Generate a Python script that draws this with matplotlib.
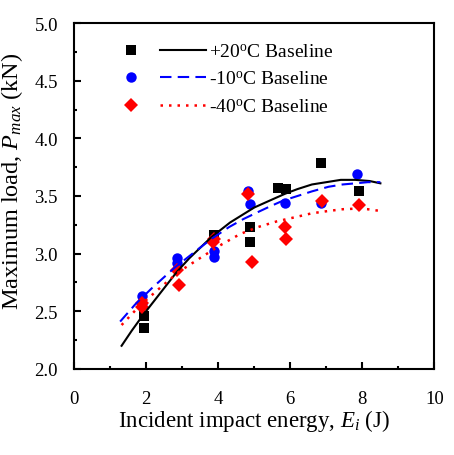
import matplotlib
matplotlib.use("Agg")
import matplotlib.pyplot as plt
from matplotlib.legend_handler import HandlerTuple

plt.rcParams['font.family'] = ['Liberation Serif', 'DejaVu Serif']
plt.rcParams['mathtext.fontset'] = 'custom'
plt.rcParams['mathtext.rm'] = 'Liberation Serif'
plt.rcParams['mathtext.it'] = 'Liberation Serif:italic'

# measured points
e20_x = [1.93, 1.93, 3.89, 4.89, 4.87, 5.65, 5.88, 6.86, 7.90]
e20_y = [2.46, 2.35, 3.16, 3.23, 3.10, 3.57, 3.56, 3.79, 3.54]

m10_x = [1.88, 1.90, 2.85, 2.85, 3.87, 3.87, 4.84, 4.87, 5.86, 6.86, 7.85]
m10_y = [2.63, 2.57, 2.96, 2.92, 3.02, 2.97, 3.54, 3.43, 3.44, 3.44, 3.69]

m40_x = [1.90, 1.90, 2.85, 2.90, 3.85, 3.87, 4.84, 4.94, 5.84, 5.89, 6.88, 7.90]
m40_y = [2.57, 2.54, 2.86, 2.73, 3.10, 3.13, 3.52, 2.93, 3.23, 3.13, 3.46, 3.42]

# baseline trend curves
fit20_x = [1.32, 1.6, 1.9, 2.2, 2.5, 2.85, 3.2, 3.5, 3.8, 4.33, 5.0, 5.5, 5.86, 6.2, 6.6, 7.0, 7.4, 7.8, 8.2, 8.5]
fit20_y = [2.20, 2.33, 2.46, 2.58, 2.70, 2.84, 2.96, 3.05, 3.14, 3.27, 3.40, 3.47, 3.52, 3.56, 3.60, 3.62, 3.64, 3.64, 3.63, 3.61]

fit10_x = [1.28, 1.7, 2.16, 2.8, 3.41, 3.78, 4.3, 4.70, 5.1, 5.44, 5.8, 6.2, 6.6, 7.06, 7.45, 7.81, 8.15, 8.5]
fit10_y = [2.41, 2.56, 2.70, 2.88, 3.03, 3.12, 3.23, 3.30, 3.36, 3.41, 3.46, 3.50, 3.54, 3.58, 3.60, 3.61, 3.62, 3.62]

fit40_x = [1.32, 1.8, 2.34, 2.9, 3.59, 4.1, 4.61, 5.1, 5.63, 6.19, 6.6, 7.06, 7.45, 7.81, 8.15, 8.5]
fit40_y = [2.38, 2.54, 2.69, 2.84, 2.98, 3.08, 3.17, 3.23, 3.28, 3.32, 3.35, 3.37, 3.385, 3.39, 3.385, 3.37]

fig = plt.figure(figsize=(4.54, 4.56), dpi=100)
ax = fig.add_axes([0.163, 0.189, 0.794, 0.758])

s1, = ax.plot(e20_x, e20_y, 's', color='black', ms=6.5, mew=0, linestyle='none')
s2, = ax.plot(m10_x, m10_y, 'o', color='blue', ms=7.5, mew=0, linestyle='none')
s3, = ax.plot(m40_x, m40_y, 'D', color='red', ms=7, mew=0, linestyle='none')

l1, = ax.plot(fit20_x, fit20_y, '-', color='black', lw=1.5)
l2, = ax.plot(fit10_x, fit10_y, color='blue', lw=1.5, linestyle=(0, (5.5, 3)))
l3, = ax.plot(fit40_x, fit40_y, color='red', lw=1.8, linestyle=(0, (1, 2.4)))

ax.legend([(s1, l1), (s2, l2), (s3, l3)],
          ['+20$^{\\mathrm{o}}$C Baseline', '-10$^{\\mathrm{o}}$C Baseline', '-40$^{\\mathrm{o}}$C Baseline'],
          handler_map={tuple: HandlerTuple(ndivide=None, pad=0.3)},
          loc='upper left', bbox_to_anchor=(0.074, 0.965), frameon=False,
          handlelength=5.0, handletextpad=0.15, labelspacing=0.5, fontsize=14,
          borderaxespad=0)

ax.set_xlim(0, 10)
ax.set_ylim(2.0, 5.0)
ax.set_xticks([0, 2, 4, 6, 8, 10])
ax.set_xticks([1, 3, 5, 7, 9], minor=True)
ax.set_yticks([2.0, 2.5, 3.0, 3.5, 4.0, 4.5, 5.0])
ax.set_yticks([2.25, 2.75, 3.25, 3.75, 4.25, 4.75], minor=True)
ax.set_yticklabels(['2.0', '2.5', '3.0', '3.5', '4.0', '4.5', '5.0'])
ax.tick_params(which='both', direction='in', width=1.5, labelsize=13.5, top=False, right=False)
ax.tick_params(axis='x', which='major', length=5, pad=15)
ax.tick_params(axis='y', which='major', length=5, pad=11.5)
ax.tick_params(which='minor', length=2.5)
for sp in ax.spines.values():
    sp.set_linewidth(1.5)

ax.set_xlabel('Incident impact energy, $E_i$ (J)', fontsize=16.5, labelpad=0)
ax.set_ylabel('Maximum load, $P_{max}$ (kN)', fontsize=17.5)
ax.yaxis.set_label_coords(-0.135, 0.546)

fig.savefig('out.png', dpi=100)
